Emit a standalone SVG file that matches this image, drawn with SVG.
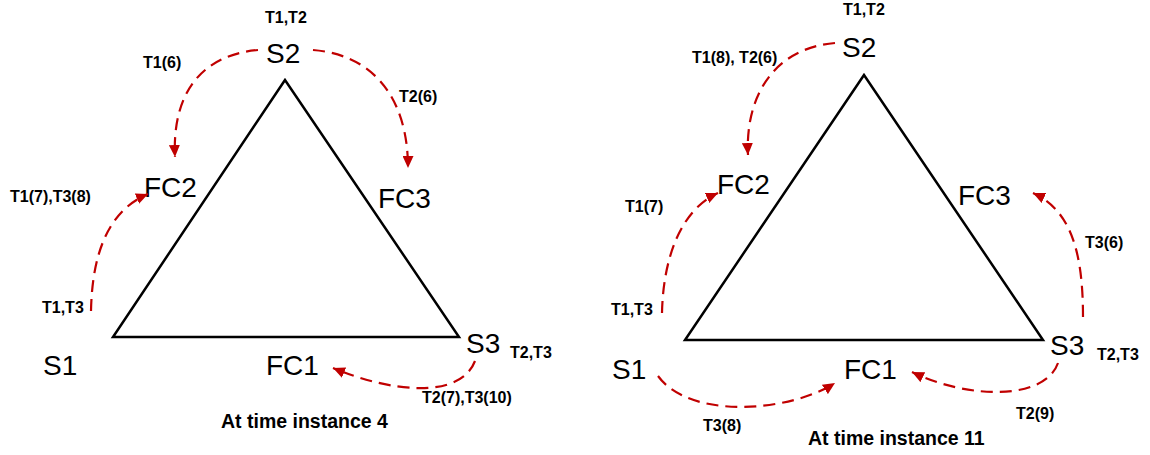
<svg xmlns="http://www.w3.org/2000/svg" width="1150" height="455" viewBox="0 0 1150 455">
<style>
.tri{fill:none;stroke:#000;stroke-width:2.5;stroke-linejoin:miter}
.big{font-family:"Liberation Sans",Arial,sans-serif;font-size:28px;fill:#000}
.lab{font-family:"Liberation Sans",Arial,sans-serif;font-size:16px;font-weight:bold;fill:#000}
.title{font-family:"Liberation Sans",Arial,sans-serif;font-size:19.5px;font-weight:bold;fill:#000}
.arr{fill:none;stroke:#C00000;stroke-width:2.2;stroke-dasharray:12,7;marker-end:url(#ah)}
</style>
<defs>
<marker id="ah" markerUnits="userSpaceOnUse" markerWidth="13" markerHeight="11" refX="12" refY="5.5" orient="auto">
<path d="M0,0 L12,5.5 L0,11 z" fill="#C00000"/>
</marker>
</defs>
<rect width="1150" height="455" fill="#fff"/>

<!-- Left diagram -->
<g id="left-triangle"><polygon class="tri" points="285,80 113,337 459,337"/></g>
<g id="L-S2"><text class="big" x="266" y="63">S2</text><text class="lab" x="265" y="23">T1,T2</text></g>
<g id="L-FC2"><text class="big" x="144" y="197">FC2</text></g>
<g id="L-FC3"><text class="big" x="378" y="208">FC3</text></g>
<g id="L-S1"><text class="big" x="43" y="375">S1</text><text class="lab" x="42" y="313">T1,T3</text></g>
<g id="L-FC1"><text class="big" x="266" y="375">FC1</text></g>
<g id="L-S3"><text class="big" x="466" y="353">S3</text><text class="lab" x="510" y="358">T2,T3</text></g>
<g id="L-title"><text class="title" x="221" y="428">At time instance 4</text></g>

<!-- Right diagram -->
<g id="right-triangle"><polygon class="tri" points="864,75 685,340 1043,340"/></g>
<g id="R-S2"><text class="big" x="842" y="57">S2</text><text class="lab" x="843" y="15">T1,T2</text></g>
<g id="R-FC2"><text class="big" x="717" y="194">FC2</text></g>
<g id="R-FC3"><text class="big" x="958" y="205">FC3</text></g>
<g id="R-S1"><text class="big" x="612" y="379">S1</text><text class="lab" x="611" y="315">T1,T3</text></g>
<g id="R-FC1"><text class="big" x="844" y="379">FC1</text></g>
<g id="R-S3"><text class="big" x="1050" y="355">S3</text><text class="lab" x="1097" y="360">T2,T3</text></g>
<g id="R-title"><text class="title" x="808" y="445">At time instance 11</text></g>

<g id="connectors">
<!-- left -->
<path class="arr" d="M258,50 C200,55 172,95 175,157"/>
<path class="arr" d="M313,50 C375,55 408,100 408,168"/>
<path class="arr" d="M91,311 C92,260 105,212 148,194"/>
<path class="arr" d="M475,361 C460,400 390,392 333,368"/>
<!-- right -->
<path class="arr" d="M835,43 C775,48 745,95 748,155"/>
<path class="arr" d="M662,313 C663,260 680,210 718,193"/>
<path class="arr" d="M1083,317 C1083,250 1070,210 1033,193"/>
<path class="arr" d="M658,376 C690,420 790,412 835,383"/>
<path class="arr" d="M1058,363 C1045,400 970,400 912,372"/>
</g>

<g id="connector-labels">
<text class="lab" x="143" y="68">T1(6)</text>
<text class="lab" x="399" y="102">T2(6)</text>
<text class="lab" x="10" y="202">T1(7),T3(8)</text>
<text class="lab" x="422" y="403">T2(7),T3(10)</text>
<text class="lab" x="692" y="63">T1(8), T2(6)</text>
<text class="lab" x="625" y="212">T1(7)</text>
<text class="lab" x="1085" y="248">T3(6)</text>
<text class="lab" x="703" y="431">T3(8)</text>
<text class="lab" x="1016" y="419">T2(9)</text>
</g>
</svg>
